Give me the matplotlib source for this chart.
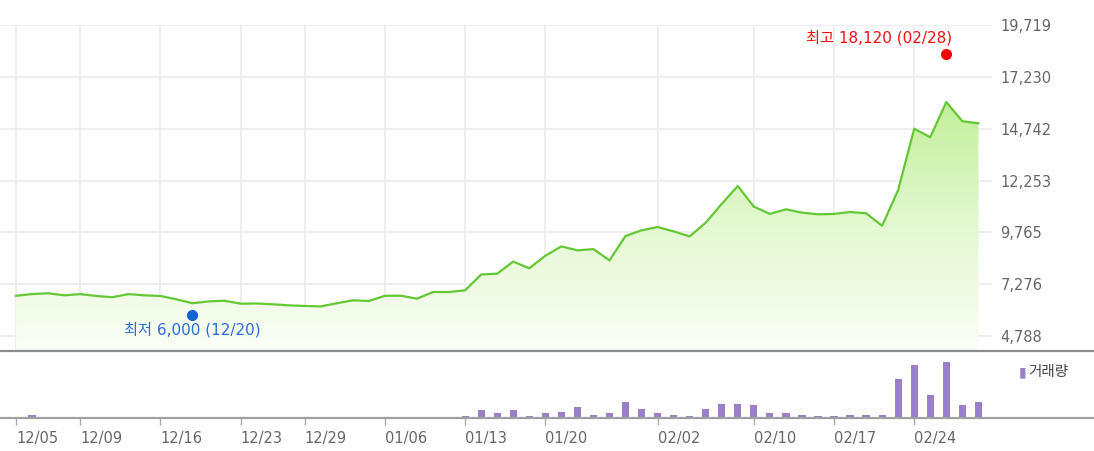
import numpy as np
import matplotlib
matplotlib.use("Agg")
import matplotlib.pyplot as plt
from matplotlib.lines import Line2D
from matplotlib.colors import LinearSegmentedColormap

# closing price per trading day (index 0 = 12/05)
price = [6720, 6800, 6840, 6740, 6800, 6710, 6650, 6800, 6740, 6710,
         6550, 6360, 6450, 6480, 6340, 6350, 6310, 6260, 6230, 6210,
         6360, 6500, 6470, 6720, 6720, 6580, 6900, 6900, 6980, 7740,
         7780, 8360, 8040, 8640, 9090, 8900, 8960, 8420, 9590, 9860,
         10020, 9810, 9570, 10230, 11130, 11990, 11000, 10650, 10870, 10710,
         10630, 10650, 10740, 10680, 10080, 11800, 14740, 14330, 16020, 15100,
         15000]

# volume (thousand shares)
volume = [0, 30, 0, 0, 0, 0, 0, 0, 0, 0,
          0, 0, 0, 0, 0, 0, 0, 0, 0, 0,
          0, 0, 0, 0, 0, 0, 0, 0, 17, 77,
          50, 77, 20, 47, 63, 110, 30, 47, 157, 93,
          47, 33, 20, 93, 140, 140, 127, 47, 47, 30,
          17, 17, 30, 30, 30, 390, 530, 233, 560, 127,
          157]

tick_idx = [0, 4, 9, 14, 18, 23, 28, 33, 40, 46, 51, 56]
tick_labels = ["12/05", "12/09", "12/16", "12/23", "12/29", "01/06",
               "01/13", "01/20", "02/02", "02/10", "02/17", "02/24"]

y_ticks = [4788, 7276, 9765, 12253, 14742, 17230, 19719]

low_idx, low_dot, low_text = 11, 5800, "최저 6,000 (12/20)"
high_idx, high_dot, high_text = 58, 18330, "최고 18,120 (02/28)"

W, H = 1094, 451
fig = plt.figure(figsize=(W / 100, H / 100), dpi=100)

x = np.arange(len(price))
grid_c = "#ededed"
label_c = "#666666"

# --- price panel
ax = fig.add_axes([0, 100 / H, 992 / W, 326 / H])
ax.set_xlim(-1.0, 60.85)
ax.set_ylim(4068, 19719)
for s in ax.spines.values():
    s.set_visible(False)
ax.set_yticks(y_ticks)
ax.set_yticklabels([f"{v:,}" for v in y_ticks])
ax.yaxis.tick_right()
ax.tick_params(axis="y", length=0, pad=6, labelsize=10.5, labelcolor=label_c)
ax.set_xticks(tick_idx)
ax.tick_params(axis="x", length=0, labelbottom=False)
ax.grid(True, color=grid_c, lw=1.3)
ax.set_axisbelow(True)

# gradient fill under the line
poly = ax.fill_between(x, price, 4068, color="none", lw=0)
cmap = LinearSegmentedColormap.from_list("g", ["#fbfef7", "#e4f8d2", "#c2ef9a"])
grad = np.linspace(0, 1, 256).reshape(-1, 1)
img = ax.imshow(grad, cmap=cmap, aspect="auto", origin="lower",
                extent=(-1.0, 60.85, 4068, max(price)), zorder=1)
img.set_clip_path(poly.get_paths()[0], transform=ax.transData)
ax.set_xlim(-1.0, 60.85)
ax.set_ylim(4068, 19719)

ax.plot(x, price, color="#63c834", lw=1.6, zorder=3)

kr = ["DejaVu Sans", "Noto Sans CJK KR"]
ax.plot(low_idx, low_dot, "o", color="#1562d6", ms=7, zorder=4)
ax.annotate(low_text, (low_idx, low_dot), xytext=(0, -5), textcoords="offset points",
            ha="center", va="top", color="#2a6fd6", fontsize=11, family=kr)
ax.plot(high_idx, high_dot, "o", color="#ff0000", ms=7, zorder=4)
ax.annotate(high_text, (high_idx, high_dot), xytext=(4, 6), textcoords="offset points",
            ha="right", va="bottom", color="#ee1111", fontsize=11, family=kr)

# --- volume panel
axv = fig.add_axes([0, 33 / H, 992 / W, 67 / H])
axv.set_xlim(-1.0, 60.85)
axv.set_ylim(0, 670)
for s in axv.spines.values():
    s.set_visible(False)
axv.bar(x, volume, width=0.45, color="#9a80c8")
axv.set_yticks([])
axv.set_xticks(tick_idx)
axv.set_xticklabels(tick_labels, ha="left")
axv.tick_params(axis="x", direction="out", length=5, width=1, color="#aaaaaa",
                pad=4, labelsize=10.5, labelcolor=label_c)

fig.text(1019 / W, 1 - 372 / H, "▮", color="#9a80c8", fontsize=10,
         va="center", ha="left", family="DejaVu Sans")
fig.text(1028 / W, 1 - 372 / H, "거래량", color="#444444", fontsize=10.5,
         va="center", ha="left", family=["Noto Sans CJK KR", "DejaVu Sans"])

# panel separators across full width
fig.add_artist(Line2D([0, 1], [1 - 351 / H, 1 - 351 / H], color="#8c8c8c", lw=1.6))
fig.add_artist(Line2D([0, 1], [1 - 418 / H, 1 - 418 / H], color="#a0a0a0", lw=1.6))

fig.savefig("out.png", dpi=100)
